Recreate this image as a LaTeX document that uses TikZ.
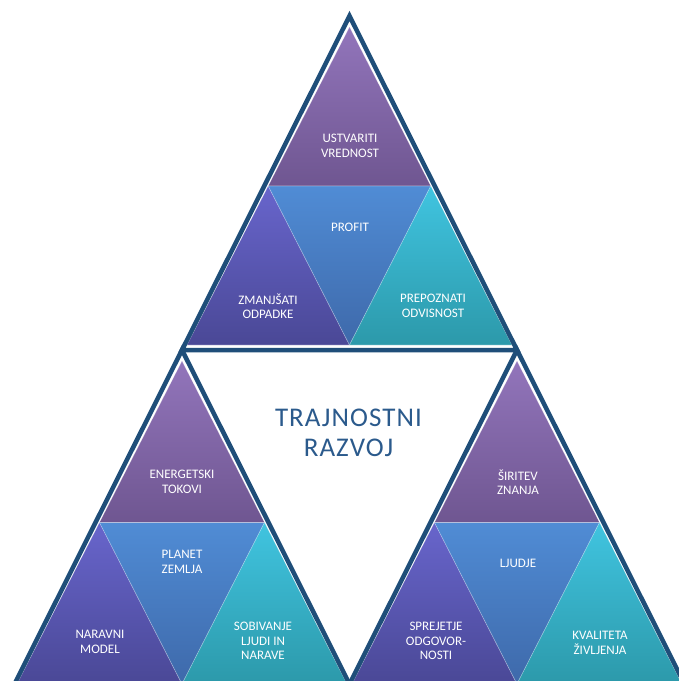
\documentclass[tikz,border=0pt]{standalone}
\usepackage{fontspec}
\setmainfont{Carlito}
\definecolor{outl}{HTML}{1F4E79}
\definecolor{titlec}{HTML}{2B5A8C}
\definecolor{purT}{HTML}{9275BB}
\definecolor{purB}{HTML}{6F5691}
\definecolor{indT}{HTML}{6865CC}
\definecolor{indB}{HTML}{4A4896}
\definecolor{bluT}{HTML}{508CD5}
\definecolor{bluB}{HTML}{3E69AA}
\definecolor{cyaT}{HTML}{40C4E0}
\definecolor{cyaB}{HTML}{2C99AA}
\begin{document}
\begin{tikzpicture}[x=1pt,y=-1pt,
  lbl/.style={text=white, align=center, font=\fontsize{13}{14.5}\selectfont, inner sep=0pt},
  part/.style={draw=white, draw opacity=0.3, line width=0.6pt},
  frame/.style={draw=outl, line width=4.5pt, line join=miter}]
\useasboundingbox (0,0) rectangle (679,681);
\clip (0,0) rectangle (679,681);
\foreach \ax/\ay/\by/\bx in {349.5/16/329/162.5, 182/350/334/165, 517/350/334/165} {
  \pgfmathsetmacro{\my}{(11+\by)/2}
  \pgfmathsetmacro{\mx}{\bx/2}
  \begin{scope}[shift={(\ax,\ay)}]
    \path[part, top color=purT, bottom color=purB] (0,11) -- (-\mx,\my) -- (\mx,\my) -- cycle;
    \path[part, top color=indT, bottom color=indB] (-\mx,\my) -- (-\bx,\by) -- (0,\by) -- cycle;
    \path[part, top color=bluT, bottom color=bluB] (-\mx,\my) -- (\mx,\my) -- (0,\by) -- cycle;
    \path[part, top color=cyaT, bottom color=cyaB] (\mx,\my) -- (0,\by) -- (\bx,\by) -- cycle;
  \end{scope}
}
\begin{scope}[shift={(349.5,16)}]
  \path[frame] (0,0) -- (-167.5,334) -- (167.5,334) -- cycle;
\end{scope}
\foreach \ax/\ay in {182/350, 517/350} {
  \begin{scope}[shift={(\ax,\ay)}]
    \path[frame] (-172.5,344) -- (0,0) -- (172.5,344);
  \end{scope}
}
% top unit
\node[lbl] (ustvariti) at (350,146) {USTVARITI\\VREDNOST};
\node[lbl] (profit) at (350,227) {PROFIT};
\node[lbl] (zmanjsati) at (268,306) {ZMANJŠATI\\ODPADKE};
\node[lbl] (prepoznati) at (433,306) {PREPOZNATI\\ODVISNOST};
% lower left unit
\node[lbl] (energetski) at (182,482) {ENERGETSKI\\TOKOVI};
\node[lbl] (planet) at (182,562) {PLANET\\ZEMLJA};
\node[lbl] (naravni) at (100,642) {NARAVNI\\MODEL};
\node[lbl] (sobivanje) at (263,641) {SOBIVANJE\\LJUDI IN\\NARAVE};
% lower right unit
\node[lbl] (siritev) at (518,482) {ŠIRITEV\\ZNANJA};
\node[lbl] (ljudje) at (518,563) {LJUDJE};
\node[lbl] (sprejetje) at (436,641) {SPREJETJE\\ODGOVOR-\\NOSTI};
\node[lbl] (kvaliteta) at (600,643) {KVALITETA\\ŽIVLJENJA};
% title
\node[text=titlec, align=center, inner sep=0pt,
  font=\fontsize{27}{30}\selectfont\addfontfeature{LetterSpace=4}] (title) at (348.5,433) {TRAJNOSTNI\\RAZVOJ};
\end{tikzpicture}
\end{document}
